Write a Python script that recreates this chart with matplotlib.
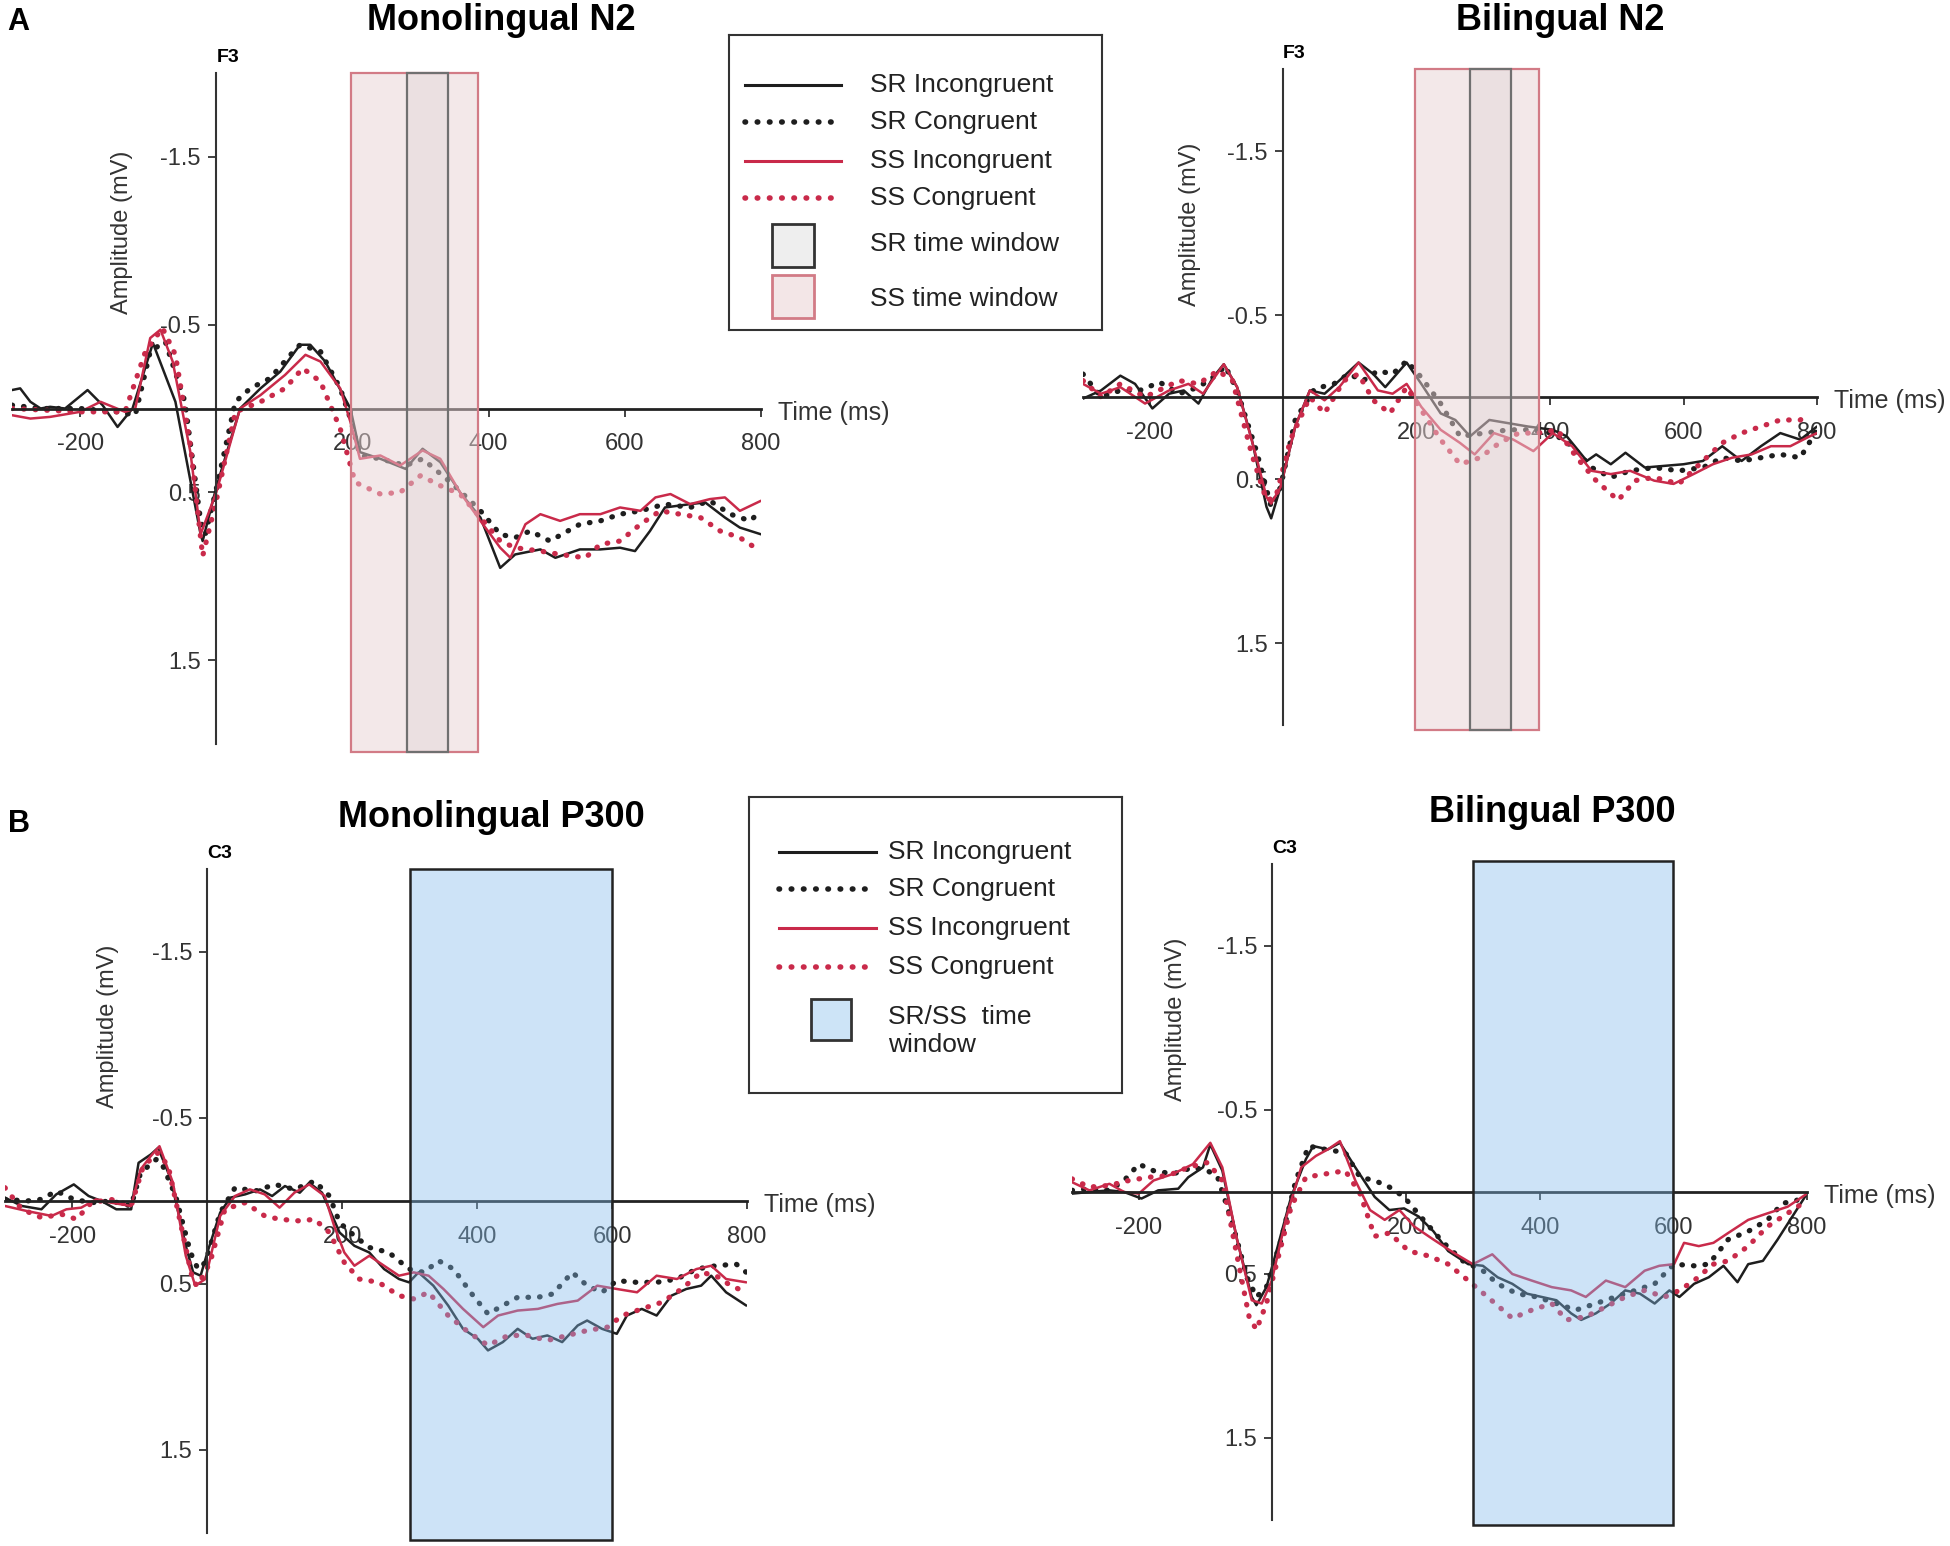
import matplotlib
matplotlib.use("Agg")
import matplotlib.pyplot as plt
from matplotlib.patches import Rectangle

plt.rcParams['font.family'] = ['Liberation Sans', 'DejaVu Sans']

# ---- data: time (ms) and amplitude (mV), axis is inverted ----
# Monolingual N2 (F3)
mono_n2_sr_inc_t = [-300, -288, -273, -258, -244, -222, -189, -167, -145, -123, -93, -60, -23, -20, 0, 35, 65, 94, 123, 138,
                    160, 197, 211, 241, 278, 303, 329, 358, 388, 417, 439, 476, 498, 534, 564, 593, 615, 637, 659, 696,
                    718, 747, 769, 800]
mono_n2_sr_inc_v = [-0.11, -0.12, -0.04, 0.0, -0.01, 0.0, -0.11, -0.02, 0.11, 0.0, -0.39, -0.04, 0.75, 0.79, 0.47, 0.0, -0.12, -0.22, -0.38, -0.38,
                    -0.28, 0.0, 0.26, 0.30, 0.36, 0.24, 0.32, 0.50, 0.65, 0.95, 0.87, 0.84, 0.89, 0.84, 0.84, 0.83, 0.85, 0.73, 0.59, 0.57,
                    0.56, 0.65, 0.71, 0.75]
mono_n2_sr_con_t = [-300, -258, -200, -145, -119, -97, -75, -46, -23, -16, 0, 28, 50, 79, 109, 123, 153, 182, 197, 211,
                    241, 278, 303, 344, 373, 388, 417, 439, 461, 490, 534, 564, 593, 623, 659, 696, 725, 755, 784, 800]
mono_n2_sr_con_v = [-0.02, 0.0, 0.0, 0.02, 0.04, -0.34, -0.40, -0.04, 0.67, 0.75, 0.48, -0.04, -0.12, -0.18, -0.32, -0.38, -0.34, -0.12, 0.06, 0.28,
                    0.30, 0.34, 0.30, 0.44, 0.55, 0.61, 0.75, 0.77, 0.73, 0.79, 0.69, 0.67, 0.63, 0.61, 0.57, 0.59, 0.55, 0.63, 0.67, 0.61]
mono_n2_ss_inc_t = [-300, -273, -244, -200, -170, -134, -119, -97, -82, -64, -38, -23, 0, 35, 65, 101, 131, 153, 182, 197,
                    211, 241, 270, 303, 329, 358, 388, 417, 432, 454, 476, 505, 534, 564, 593, 623, 645, 667, 696, 725,
                    747, 769, 800]
mono_n2_ss_inc_v = [0.04, 0.06, 0.05, 0.02, -0.04, 0.02, 0.0, -0.42, -0.47, -0.28, 0.26, 0.75, 0.50, 0.0, -0.08, -0.20, -0.32, -0.28, -0.12, 0.08,
                    0.30, 0.28, 0.34, 0.25, 0.30, 0.50, 0.67, 0.83, 0.89, 0.69, 0.63, 0.67, 0.63, 0.63, 0.59, 0.61, 0.53, 0.51, 0.57, 0.54,
                    0.53, 0.61, 0.55]
mono_n2_ss_con_t = [-300, -200, -134, -104, -79, -60, -38, -20, 0, 28, 65, 101, 127, 153, 182, 204, 241, 270, 300, 329,
                    358, 388, 417, 439, 476, 505, 542, 564, 593, 623, 652, 681, 711, 740, 769, 799]
mono_n2_ss_con_v = [0.0, 0.02, 0.02, -0.34, -0.48, -0.32, 0.22, 0.88, 0.55, 0.02, -0.04, -0.12, -0.24, -0.16, 0.12, 0.44, 0.51, 0.50, 0.40, 0.46,
                    0.51, 0.65, 0.79, 0.83, 0.85, 0.87, 0.89, 0.81, 0.79, 0.69, 0.61, 0.63, 0.65, 0.73, 0.77, 0.85]

# Bilingual N2 (F3)
bi_n2_sr_inc_t = [-300, -273, -244, -222, -196, -171, -149, -127, -105, -89, -69, -47, -25, -18, -4, 18, 40, 62, 84, 113,
                  135, 153, 185, 207, 236, 258, 280, 309, 338, 367, 404, 425, 455, 469, 491, 513, 542, 571, 600, 629,
                  658, 687, 716, 745, 775, 800]
bi_n2_sr_inc_v = [0.01, -0.04, -0.13, -0.08, 0.07, -0.02, -0.04, 0.04, -0.12, -0.20, -0.06, 0.26, 0.67, 0.74, 0.55, 0.18, -0.04, -0.02, -0.10, -0.21,
                  -0.14, -0.06, -0.21, -0.08, 0.10, 0.14, 0.24, 0.14, 0.16, 0.18, 0.20, 0.24, 0.39, 0.35, 0.41, 0.34, 0.43, 0.42, 0.41, 0.39,
                  0.30, 0.39, 0.30, 0.22, 0.26, 0.18]
bi_n2_sr_con_t = [-300, -273, -244, -215, -185, -156, -127, -98, -87, -69, -40, -18, -4, 18, 47, 76, 98, 120, 142, 164,
                  185, 207, 236, 265, 302, 338, 367, 404, 433, 462, 491, 520, 556, 593, 629, 658, 687, 716, 745, 775, 800]
bi_n2_sr_con_v = [-0.14, 0.0, -0.04, -0.04, -0.09, -0.02, -0.06, -0.14, -0.19, -0.04, 0.33, 0.67, 0.55, 0.14, -0.05, -0.08, -0.14, -0.10, -0.16, -0.14,
                  -0.22, -0.12, 0.04, 0.24, 0.22, 0.20, 0.20, 0.22, 0.30, 0.43, 0.49, 0.45, 0.43, 0.45, 0.43, 0.37, 0.39, 0.37, 0.35, 0.37, 0.20]
bi_n2_ss_inc_t = [-300, -273, -244, -207, -171, -142, -120, -89, -69, -40, -25, -18, -4, 18, 40, 62, 84, 113, 142, 164,
                  185, 207, 236, 265, 287, 316, 345, 375, 404, 433, 462, 491, 520, 556, 585, 615, 644, 673, 702, 731,
                  760, 789, 800]
bi_n2_ss_inc_v = [-0.08, -0.02, -0.06, 0.04, -0.04, -0.08, -0.02, -0.20, -0.06, 0.37, 0.61, 0.65, 0.55, 0.18, -0.04, 0.02, -0.06, -0.21, -0.04, -0.02,
                  -0.08, 0.06, 0.20, 0.28, 0.35, 0.22, 0.26, 0.33, 0.22, 0.30, 0.45, 0.47, 0.45, 0.51, 0.53, 0.47, 0.41, 0.37, 0.35, 0.30,
                  0.30, 0.24, 0.22]
bi_n2_ss_con_t = [-300, -273, -244, -207, -156, -127, -98, -76, -47, -25, -11, 11, 40, 62, 91, 113, 135, 160, 185, 207,
                  236, 265, 295, 324, 353, 382, 411, 440, 469, 502, 527, 556, 593, 629, 658, 687, 716, 745, 775, 789]
bi_n2_ss_con_v = [-0.10, 0.0, -0.08, 0.0, -0.10, -0.08, -0.16, -0.10, 0.35, 0.63, 0.61, 0.26, 0.0, 0.10, -0.10, -0.14, 0.02, 0.10, -0.06, 0.08,
                  0.26, 0.41, 0.37, 0.28, 0.22, 0.22, 0.20, 0.37, 0.51, 0.63, 0.51, 0.49, 0.53, 0.39, 0.28, 0.22, 0.18, 0.14, 0.14, 0.10]

# Monolingual P300 (C3)
mono_p3_sr_inc_t = [-300, -275, -246, -224, -198, -176, -157, -135, -113, -102, -84, -73, -54, -32, -21, -10, 0, 19, 34, 56,
                    78, 96, 115, 137, 151, 170, 181, 196, 218, 240, 262, 284, 299, 313, 335, 357, 379, 401, 416, 438,
                    460, 482, 504, 526, 549, 563, 585, 607, 622, 644, 666, 688, 710, 732, 747, 769, 799]
mono_p3_sr_inc_v = [-0.02, 0.03, 0.05, -0.04, -0.10, -0.03, 0.0, 0.05, 0.05, -0.23, -0.28, -0.32, -0.13, 0.27, 0.43, 0.45, 0.31, 0.07, -0.02, -0.04,
                    -0.07, -0.03, -0.09, -0.05, -0.11, -0.05, 0.05, 0.19, 0.27, 0.31, 0.41, 0.47, 0.49, 0.43, 0.51, 0.63, 0.77, 0.83, 0.90, 0.85,
                    0.77, 0.83, 0.81, 0.85, 0.75, 0.72, 0.77, 0.80, 0.69, 0.65, 0.69, 0.57, 0.53, 0.51, 0.45, 0.55, 0.63]
mono_p3_sr_con_t = [-300, -268, -246, -224, -198, -172, -143, -113, -99, -76, -69, -47, -25, -14, -3, 19, 41, 71, 100, 129,
                    159, 181, 196, 218, 240, 269, 299, 321, 343, 365, 394, 416, 438, 460, 490, 512, 541, 563, 585, 607,
                    637, 666, 696, 725, 754, 784, 799]
mono_p3_sr_con_v = [-0.01, 0.0, -0.01, -0.06, -0.01, 0.01, 0.0, 0.03, -0.17, -0.25, -0.24, -0.03, 0.31, 0.41, 0.37, 0.07, -0.08, -0.06, -0.10, -0.07,
                    -0.12, -0.03, 0.13, 0.21, 0.28, 0.31, 0.41, 0.43, 0.36, 0.41, 0.57, 0.68, 0.63, 0.58, 0.58, 0.56, 0.43, 0.51, 0.55, 0.48,
                    0.49, 0.49, 0.47, 0.41, 0.39, 0.38, 0.43]
mono_p3_ss_inc_t = [-300, -268, -231, -209, -187, -165, -143, -113, -99, -84, -71, -51, -32, -18, -3, 19, 41, 63, 85, 107,
                    129, 151, 174, 188, 203, 218, 240, 262, 284, 306, 328, 350, 379, 409, 431, 460, 490, 519, 549, 578,
                    607, 637, 666, 696, 725, 747, 769, 799]
mono_p3_ss_inc_v = [0.03, 0.06, 0.09, 0.05, 0.04, -0.01, 0.01, 0.03, -0.19, -0.27, -0.33, -0.11, 0.33, 0.51, 0.47, 0.09, -0.03, -0.07, -0.04, 0.04,
                    -0.05, -0.10, -0.03, 0.15, 0.31, 0.39, 0.33, 0.39, 0.45, 0.43, 0.45, 0.53, 0.65, 0.76, 0.69, 0.66, 0.65, 0.62, 0.60, 0.51,
                    0.53, 0.55, 0.45, 0.47, 0.41, 0.39, 0.47, 0.49]
mono_p3_ss_con_t = [-300, -275, -246, -216, -194, -172, -143, -113, -95, -73, -58, -40, -21, -14, 4, 26, 56, 85, 107, 137,
                    159, 181, 203, 225, 254, 284, 306, 328, 357, 387, 416, 446, 475, 504, 534, 563, 593, 615, 644, 674,
                    703, 732, 754, 776, 799]
mono_p3_ss_con_v = [-0.08, 0.05, 0.10, 0.08, 0.11, 0.01, -0.01, 0.03, -0.21, -0.29, -0.21, 0.13, 0.49, 0.51, 0.37, 0.05, 0.01, 0.09, 0.11, 0.12,
                    0.11, 0.19, 0.37, 0.47, 0.49, 0.57, 0.59, 0.55, 0.69, 0.79, 0.87, 0.81, 0.81, 0.84, 0.81, 0.78, 0.76, 0.69, 0.65, 0.61,
                    0.53, 0.43, 0.45, 0.51, 0.55]

# Bilingual P300 (C3)
bi_p3_sr_inc_t = [-300, -274, -244, -222, -196, -171, -141, -126, -104, -93, -75, -53, -31, -24, -9, 6, 28, 50, 61, 83,
                  101, 124, 153, 175, 197, 219, 241, 263, 293, 315, 337, 359, 381, 403, 425, 447, 462, 484, 506, 528,
                  550, 572, 594, 609, 631, 653, 675, 696, 712, 734, 756, 778, 800]
bi_p3_sr_inc_v = [0.01, 0.0, -0.01, 0.0, 0.04, -0.01, -0.02, -0.09, -0.15, -0.29, -0.13, 0.29, 0.64, 0.69, 0.58, 0.36, 0.03, -0.20, -0.28, -0.26,
                  -0.30, -0.15, 0.03, 0.11, 0.10, 0.15, 0.24, 0.36, 0.44, 0.45, 0.52, 0.56, 0.62, 0.64, 0.66, 0.74, 0.78, 0.74, 0.68, 0.60,
                  0.62, 0.68, 0.60, 0.64, 0.56, 0.52, 0.45, 0.55, 0.44, 0.42, 0.29, 0.15, 0.01]
bi_p3_sr_con_t = [-300, -274, -244, -222, -200, -178, -149, -119, -97, -82, -60, -38, -24, -9, 13, 35, 54, 79, 109, 131,
                  153, 175, 197, 226, 256, 285, 315, 337, 366, 396, 425, 454, 484, 513, 543, 572, 601, 631, 653, 682,
                  712, 741, 763, 785]
bi_p3_sr_con_v = [-0.01, -0.02, -0.01, -0.07, -0.17, -0.13, -0.11, -0.15, -0.13, -0.09, 0.19, 0.52, 0.64, 0.58, 0.29, -0.07, -0.28, -0.26, -0.24, -0.09,
                  -0.07, -0.03, 0.03, 0.17, 0.31, 0.42, 0.48, 0.56, 0.62, 0.64, 0.68, 0.72, 0.68, 0.64, 0.60, 0.56, 0.44, 0.45, 0.44, 0.29,
                  0.24, 0.17, 0.07, 0.05]
bi_p3_ss_inc_t = [-300, -274, -244, -222, -200, -178, -149, -119, -93, -75, -53, -31, -16, -1, 21, 43, 65, 83, 101, 124,
                  146, 168, 190, 212, 241, 271, 300, 329, 359, 388, 418, 447, 469, 499, 528, 557, 579, 601, 616, 638,
                  660, 682, 712, 741, 771, 800]
bi_p3_ss_inc_v = [-0.06, -0.01, -0.05, 0.0, 0.01, -0.07, -0.11, -0.17, -0.30, -0.15, 0.29, 0.66, 0.68, 0.54, 0.15, -0.15, -0.22, -0.26, -0.31, -0.07,
                  0.11, 0.17, 0.11, 0.21, 0.29, 0.37, 0.44, 0.38, 0.50, 0.54, 0.58, 0.60, 0.64, 0.54, 0.58, 0.48, 0.45, 0.44, 0.31, 0.33,
                  0.31, 0.25, 0.17, 0.13, 0.09, 0.01]
bi_p3_ss_con_t = [-300, -274, -244, -215, -185, -156, -126, -97, -75, -53, -35, -24, -9, 6, 28, 50, 79, 109, 131, 153,
                  175, 204, 234, 263, 293, 322, 359, 388, 418, 440, 469, 499, 528, 557, 587, 609, 631, 660, 682, 712,
                  741, 771, 793]
bi_p3_ss_con_v = [-0.08, -0.03, -0.04, -0.07, -0.09, -0.10, -0.15, -0.18, -0.07, 0.39, 0.76, 0.84, 0.68, 0.44, 0.09, -0.09, -0.11, -0.13, 0.01, 0.27,
                  0.25, 0.36, 0.39, 0.44, 0.54, 0.64, 0.77, 0.72, 0.68, 0.78, 0.76, 0.70, 0.64, 0.60, 0.64, 0.60, 0.54, 0.44, 0.42, 0.33,
                  0.21, 0.13, 0.07]

# time windows (ms)
sr_window = [280, 341]
ss_window = [198, 384]
p300_window = [300, 600]

series_labels = ["SR Incongruent", "SR Congruent", "SS Incongruent", "SS Congruent"]
y_ticks = [-1.5, -0.5, 0.5, 1.5]
y_tick_labels = ["-1.5", "-0.5", "0.5", "1.5"]
x_ticks = [-200, 200, 400, 600, 800]
x_tick_labels = ["-200", "200", "400", "600", "800"]

# ---- figure ---------------------------------------------------------------
W, H = 1950, 1546
fig = plt.figure(figsize=(W / 100, H / 100), dpi=100)

BLACK = "#1e1e1e"
RED = "#c92a4a"
DOT = (0, (0.1, 2.1))


def px_axes(x0, y0, x1, y1):
    # axes placed by pixel box (top-left origin)
    return fig.add_axes([x0 / W, 1 - y1 / H, (x1 - x0) / W, (y1 - y0) / H])


def draw_panel(box, series, electrode, ylab_x):
    ax = px_axes(*box)
    styles = [(BLACK, "-", 1.8), (BLACK, DOT, 3.8), (RED, "-", 1.8), (RED, DOT, 3.8)]
    for (t, v), (col, ls, lw) in zip(series, styles):
        ax.plot(t, v, color=col, linestyle=ls, lw=lw, dash_capstyle="round", solid_capstyle="round", zorder=2)
    ax.set_xlim(-300, 800)
    ax.set_ylim(2, -2)
    ax.spines["left"].set_position(("data", 0))
    ax.spines["bottom"].set_position(("data", 0))
    ax.spines["top"].set_visible(False)
    ax.spines["right"].set_visible(False)
    ax.spines["left"].set_linewidth(1.5)
    ax.spines["left"].set_color("#333333")
    ax.spines["bottom"].set_linewidth(2.0)
    ax.spines["bottom"].set_color("#222222")
    ax.set_yticks(y_ticks)
    ax.set_yticklabels(y_tick_labels)
    ax.set_xticks(x_ticks)
    ax.set_xticklabels(x_tick_labels)
    ax.tick_params(axis="y", direction="out", length=6, width=1.3, labelsize=17, pad=5,
                   colors="#333333")
    ax.tick_params(axis="x", direction="out", length=6, width=1.3, labelsize=17, pad=12,
                   colors="#333333")
    ax.patch.set_visible(False)
    ax.annotate("Time (ms)", xy=(800, 0), xytext=(12, -3), textcoords="offset points",
                ha="left", va="center", fontsize=18, color="#333333", annotation_clip=False)
    ax.annotate(electrode, xy=(0, -2), xytext=(0, 5), textcoords="offset points",
                ha="left", va="bottom", fontsize=14, fontweight="bold", annotation_clip=False)
    ax.text(ylab_x, -1.05, "Amplitude (mV)", rotation=90, ha="center", va="center",
            fontsize=17, color="#333333")
    return ax


def n2_windows(ax, top, bottom):
    ss = Rectangle((ss_window[0], top), ss_window[1] - ss_window[0], bottom - top,
                   facecolor=(233 / 255, 211 / 255, 213 / 255, 0.5), edgecolor="#d27b86",
                   lw=1.6, zorder=3, clip_on=False)
    sr = Rectangle((sr_window[0], top), sr_window[1] - sr_window[0], bottom - top,
                   facecolor=(0.72, 0.66, 0.67, 0.12), edgecolor="#707070",
                   lw=1.6, zorder=3.1, clip_on=False)
    ax.add_patch(ss)
    ax.add_patch(sr)


def p300_window_box(ax, top, bottom):
    box = Rectangle((p300_window[0], top), p300_window[1] - p300_window[0], bottom - top,
                    facecolor=(130 / 255, 187 / 255, 235 / 255, 0.4), edgecolor="#222222",
                    lw=1.8, zorder=3, clip_on=False)
    ax.add_patch(box)


ax1 = draw_panel((12, 73, 761, 744),
                 [(mono_n2_sr_inc_t, mono_n2_sr_inc_v), (mono_n2_sr_con_t, mono_n2_sr_con_v),
                  (mono_n2_ss_inc_t, mono_n2_ss_inc_v), (mono_n2_ss_con_t, mono_n2_ss_con_v)], "F3", -138)
n2_windows(ax1, -2.0, 2.05)

ax2 = draw_panel((1083, 69, 1817, 725),
                 [(bi_n2_sr_inc_t, bi_n2_sr_inc_v), (bi_n2_sr_con_t, bi_n2_sr_con_v),
                  (bi_n2_ss_inc_t, bi_n2_ss_inc_v), (bi_n2_ss_con_t, bi_n2_ss_con_v)], "F3", -139)
n2_windows(ax2, -2.0, 2.03)

ax3 = draw_panel((5, 869, 747, 1533),
                 [(mono_p3_sr_inc_t, mono_p3_sr_inc_v), (mono_p3_sr_con_t, mono_p3_sr_con_v),
                  (mono_p3_ss_inc_t, mono_p3_ss_inc_v), (mono_p3_ss_con_t, mono_p3_ss_con_v)], "C3", -148)
p300_window_box(ax3, -2.0, 2.04)

ax4 = draw_panel((1072, 864, 1807, 1520),
                 [(bi_p3_sr_inc_t, bi_p3_sr_inc_v), (bi_p3_sr_con_t, bi_p3_sr_con_v),
                  (bi_p3_ss_inc_t, bi_p3_ss_inc_v), (bi_p3_ss_con_t, bi_p3_ss_con_v)], "C3", -145)
p300_window_box(ax4, -2.02, 2.03)

# titles and panel letters
for txt, x, y in [("Monolingual N2", 501, 21), ("Bilingual N2", 1560, 21),
                  ("Monolingual P300", 491, 817), ("Bilingual P300", 1552, 812)]:
    fig.text(x / W, 1 - y / H, txt, ha="center", va="center", fontsize=26, fontweight="bold")
fig.text(18 / W, 1 - 22 / H, "A", ha="center", va="center", fontsize=22, fontweight="bold")
fig.text(19 / W, 1 - 824 / H, "B", ha="center", va="center", fontsize=22, fontweight="bold")


# legends (drawn in their own small axes, pixel units)
def legend_axes(x0, y0, x1, y1):
    lax = px_axes(x0, y0, x1, y1)
    lax.set_xlim(x0, x1)
    lax.set_ylim(y1, y0)
    lax.set_xticks([])
    lax.set_yticks([])
    for s in lax.spines.values():
        s.set_linewidth(1.5)
        s.set_color("#333333")
    return lax


def legend_lines(lax, x0, x1, xt, rows):
    styles = [(BLACK, "-", 2.2), (BLACK, DOT, 4.0), (RED, "-", 2.2), (RED, DOT, 4.0)]
    for lab, y, (col, ls, lw) in zip(series_labels, rows, styles):
        lax.plot([x0, x1], [y, y], color=col, linestyle=ls, lw=lw, dash_capstyle="round")
        lax.text(xt, y, lab, ha="left", va="center", fontsize=19, color="#222222")


la = legend_axes(729, 35, 1102, 330)
legend_lines(la, 745, 841, 870, [85, 122, 161, 198])
la.add_patch(Rectangle((772, 224), 42, 43, facecolor="#eeeeee", edgecolor="#333333", lw=2))
la.add_patch(Rectangle((772, 275), 42, 43, facecolor="#f3e6e7", edgecolor="#d27b86", lw=2))
la.text(870, 244, "SR time window", ha="left", va="center", fontsize=19, color="#222222")
la.text(870, 299, "SS time window", ha="left", va="center", fontsize=19, color="#222222")

lb = legend_axes(749, 797, 1122, 1093)
legend_lines(lb, 779, 876, 888, [852, 889, 928, 967])
lb.add_patch(Rectangle((811, 999), 40, 41, facecolor="#cde4f7", edgecolor="#333333", lw=2))
lb.text(888, 1031, "SR/SS  time\nwindow", ha="left", va="center", fontsize=19, color="#222222",
        linespacing=1.2)

fig.savefig("out.png", dpi=100)
